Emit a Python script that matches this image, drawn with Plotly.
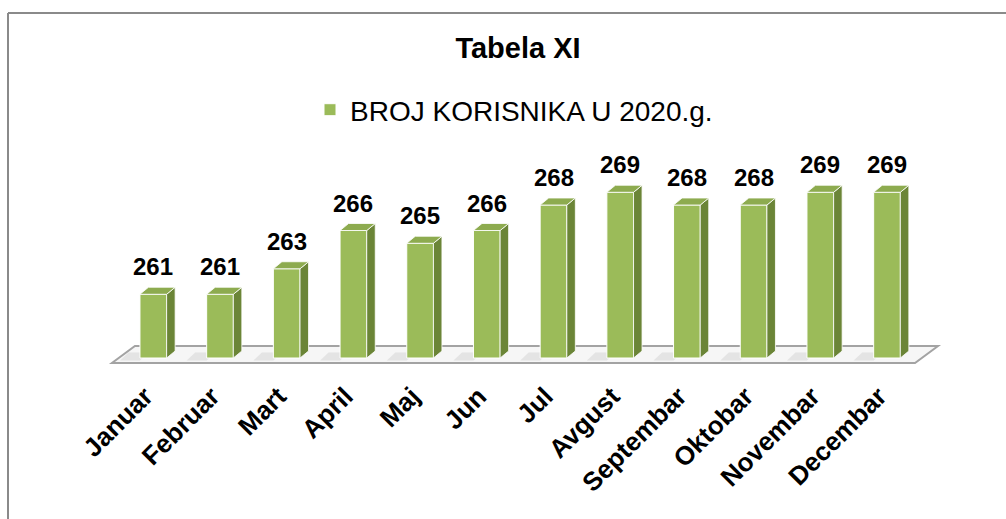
import plotly.graph_objects as go

# ---- data ----
months = ["Januar", "Februar", "Mart", "April", "Maj", "Jun", "Jul",
          "Avgust", "Septembar", "Oktobar", "Novembar", "Decembar"]
users_2020 = [261, 261, 263, 266, 265, 266, 268, 269, 268, 268, 269, 269]
series_name = "BROJ KORISNIKA U 2020.g."
chart_title = "Tabela XI"

# ---- style / geometry ----
W, H = 1006, 519
PLOT_BOTTOM_PX = 375          # bottom of plotting area in pixels
BASE = 256                    # value axis minimum (bars start here)
X0_PX, XS = 153.3, 66.7       # pixel of first category, px per category
Y0_PX, YS = 358.0, 12.75      # pixel of BASE, px per unit
BAR_W = 0.40
DX = 8.5 / XS                 # 3D depth (x) in data units
DY = 7.0 / YS                 # 3D depth (y) in data units

FRONT = "#9BBB59"
SIDE = "#6B8537"
TOP = "#8DAB4F"
FONT = "Liberation Sans, Arial, sans-serif"

x_range = [-X0_PX / XS, (W - X0_PX) / XS]
y_range = [BASE - (PLOT_BOTTOM_PX - Y0_PX) / YS, BASE + Y0_PX / YS]

n = len(months)
xs = list(range(n))

fig = go.Figure()

fig.add_trace(go.Bar(
    x=xs, y=[v - BASE for v in users_2020], base=BASE,
    width=BAR_W, name=series_name,
    marker=dict(color=FRONT, line=dict(color="white", width=1)),
    showlegend=True, hoverinfo="skip",
))

shapes = []

# floor (parallelogram under the bars)
f_front_y = BASE - 5 / YS
f_back_y = BASE + 12 / YS
f_left = -0.5 - 0.12
f_right = n - 0.5 - 0.08
f_shift = 23 / XS
shapes.append(dict(
    type="path", xref="x", yref="y", layer="below",
    path=(f"M{f_left},{f_front_y} L{f_right},{f_front_y} "
          f"L{f_right + f_shift},{f_back_y} L{f_left + f_shift},{f_back_y} Z"),
    fillcolor="#f6f6f6", line=dict(color="#a3a3a3", width=2),
))

# soft shadows on the floor left of every bar
for i in xs:
    xl = i - BAR_W / 2
    shapes.append(dict(
        type="path", xref="x", yref="y", layer="below",
        path=(f"M{xl - 0.3},{BASE - 0.2} L{xl},{BASE - 0.2} "
              f"L{xl + DX},{BASE + DY * 0.8} L{xl - 0.3 + DX},{BASE + DY * 0.8} Z"),
        fillcolor="rgba(150,150,150,0.18)", line=dict(width=0),
    ))

# 3D side and top faces of each bar, derived from data
for i, v in zip(xs, users_2020):
    xl = i - BAR_W / 2
    xr = i + BAR_W / 2
    shapes.append(dict(
        type="path", xref="x", yref="y", layer="above",
        path=(f"M{xr},{BASE} L{xr + DX},{BASE + DY} "
              f"L{xr + DX},{v + DY} L{xr},{v} Z"),
        fillcolor=SIDE, line=dict(color="white", width=0.8),
    ))
    shapes.append(dict(
        type="path", xref="x", yref="y", layer="above",
        path=(f"M{xl},{v} L{xr},{v} L{xr + DX},{v + DY} L{xl + DX},{v + DY} Z"),
        fillcolor=TOP, line=dict(color="white", width=0.8),
    ))

# chart-area border (left and top edges visible)
def py_to_paper(py):
    return (PLOT_BOTTOM_PX - py) / PLOT_BOTTOM_PX

shapes.append(dict(type="line", xref="paper", yref="paper",
                   x0=8 / W, x1=8 / W, y0=py_to_paper(13), y1=py_to_paper(H + 5),
                   line=dict(color="#8a8a8a", width=2)))
shapes.append(dict(type="line", xref="paper", yref="paper",
                   x0=8 / W, x1=(W + 5) / W, y0=py_to_paper(13), y1=py_to_paper(13),
                   line=dict(color="#8a8a8a", width=2)))

annotations = []
for i, v in zip(xs, users_2020):
    annotations.append(dict(
        x=i, y=v, xref="x", yref="y", text=f"<b>{v}</b>",
        showarrow=False, yanchor="bottom", xanchor="center", yshift=12,
        font=dict(family=FONT, size=24, color="black"),
    ))

fig.update_layout(
    width=W, height=H,
    margin=dict(l=0, r=0, t=0, b=H - PLOT_BOTTOM_PX, autoexpand=False),
    paper_bgcolor="white", plot_bgcolor="rgba(0,0,0,0)",
    title=dict(text=f"<b>{chart_title}</b>", x=518 / W, xanchor="center",
               xref="paper", y=1 - 48 / H, yref="container", yanchor="middle",
               font=dict(family=FONT, size=29, color="black")),
    legend=dict(orientation="h", x=310 / W, xanchor="left",
                y=py_to_paper(110), yanchor="middle",
                font=dict(family=FONT, size=28, color="black"),
                bgcolor="rgba(0,0,0,0)"),
    xaxis=dict(range=x_range, tickmode="array", tickvals=xs, ticktext=months,
               tickangle=-45, showgrid=False, zeroline=False, showline=False,
               ticks="", automargin=False, ticklabelshift=-8,
               tickfont=dict(family=FONT, size=26, color="black", weight="bold")),
    yaxis=dict(range=y_range, visible=False, showgrid=False, zeroline=False),
    bargap=0.6,
    shapes=shapes,
    annotations=annotations,
)

fig.write_html("out.html",
               config={"displayModeBar": False, "staticPlot": True},
               post_script="document.body.style.margin='0px';"
                           "document.body.style.overflow='hidden';")
